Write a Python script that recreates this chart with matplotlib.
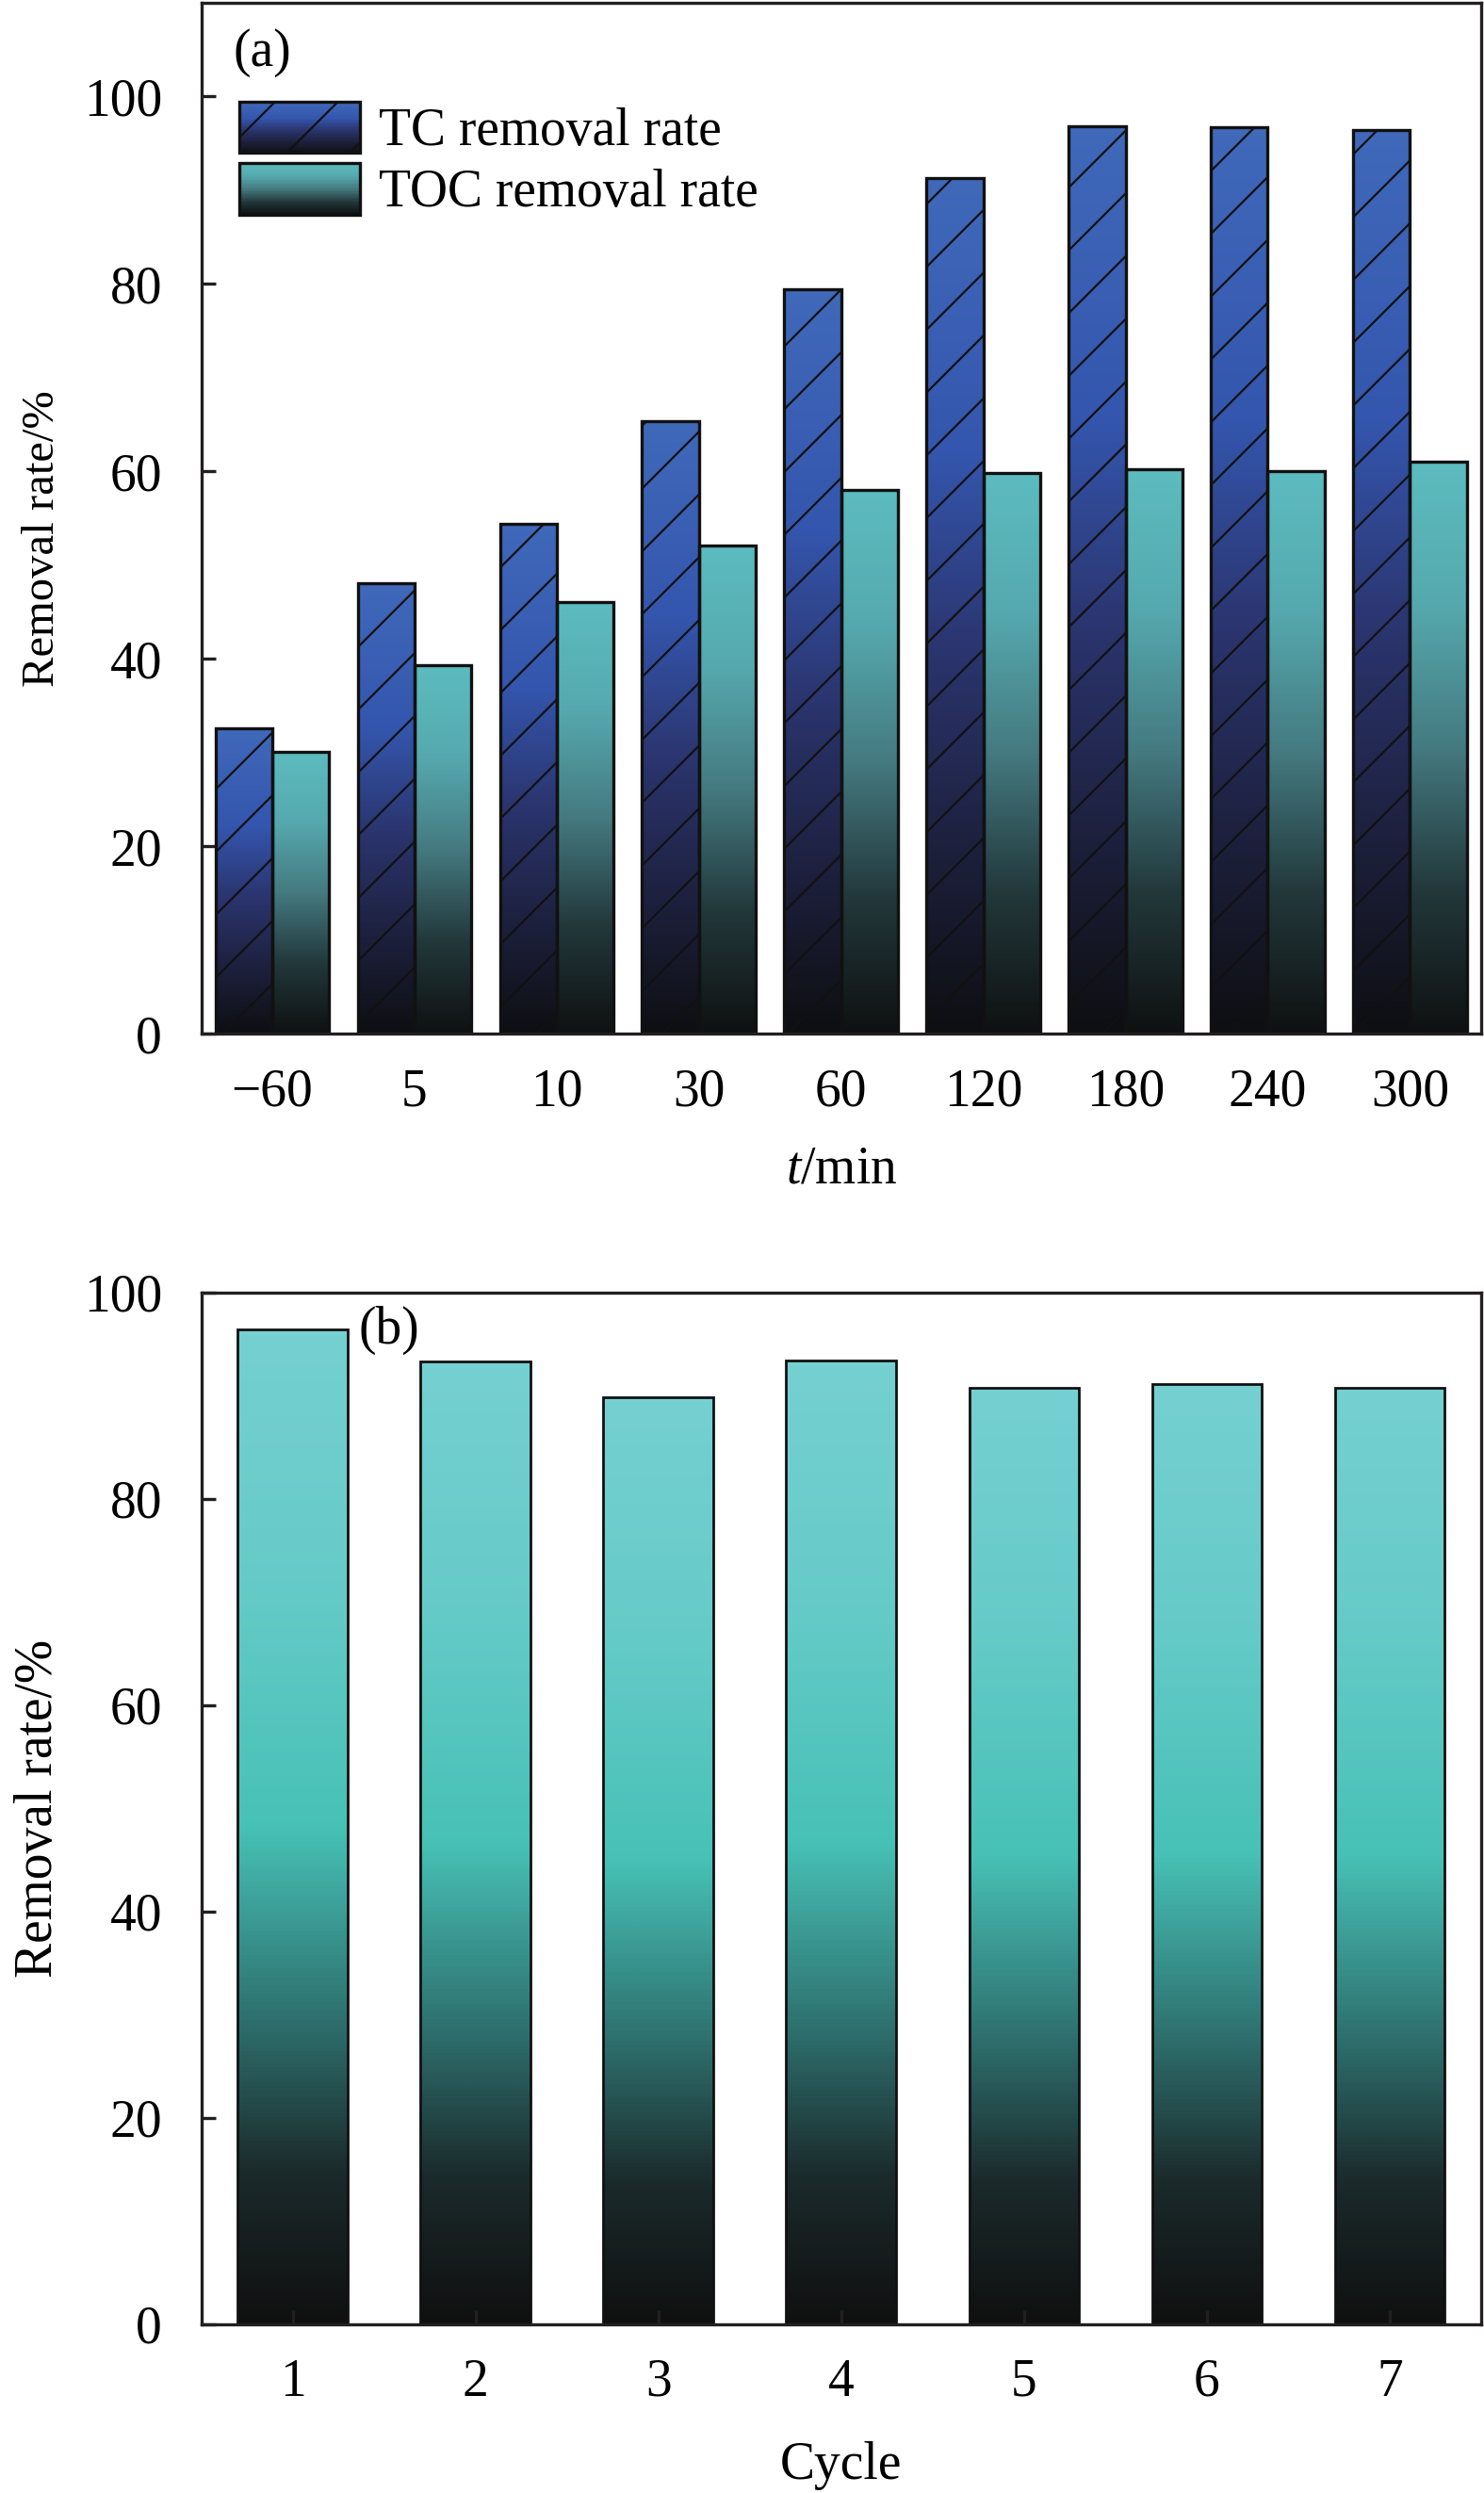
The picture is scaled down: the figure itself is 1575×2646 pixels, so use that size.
import numpy as np
import matplotlib
matplotlib.use("Agg")
import matplotlib.pyplot as plt
from matplotlib.colors import LinearSegmentedColormap
from matplotlib.patches import Rectangle
from matplotlib.legend_handler import HandlerBase

# ============================================================
# DATA
# ============================================================

time_labels = ["\u221260", "5", "10", "30", "60", "120", "180", "240", "300"]

tc_removal = [32.6, 48.1, 54.4, 65.4, 79.4, 91.3, 96.8, 96.7, 96.4]
toc_removal = [30.1, 39.3, 46.0, 52.1, 58.0, 59.8, 60.2, 60.0, 61.0]

cycle_labels = ["1", "2", "3", "4", "5", "6", "7"]
cycle_removal = [96.4, 93.3, 89.9, 93.4, 90.8, 91.1, 90.8]

# ============================================================
# STYLE
# ============================================================

plt.rcParams["font.family"] = ["Liberation Serif", "DejaVu Serif"]
plt.rcParams["font.size"] = 20
plt.rcParams["mathtext.fontset"] = "custom"
plt.rcParams["mathtext.rm"] = "Liberation Serif"
plt.rcParams["mathtext.it"] = "Liberation Serif:italic"
plt.rcParams["hatch.linewidth"] = 0.8

spine_color = "#231f20"
edge_color = "#111111"

cmap_tc = LinearSegmentedColormap.from_list(
    "tc",
    [(0.0, "#0e0f12"), (0.2, "#1c1f3a"), (0.45, "#2b356f"),
     (0.68, "#3456ae"), (1.0, "#4069ba")]
)
cmap_toc = LinearSegmentedColormap.from_list(
    "toc",
    [(0.0, "#0f1111"), (0.25, "#22383b"), (0.5, "#447a80"),
     (0.75, "#55a9ae"), (1.0, "#5cbcbf")]
)
cmap_cyc = LinearSegmentedColormap.from_list(
    "cyc",
    [(0.0, "#101010"), (0.15, "#1b2a2b"), (0.3, "#2d6e6c"),
     (0.5, "#47c1b6"), (0.75, "#66cbc8"), (1.0, "#75d0d1")]
)

grad = np.linspace(0, 1, 256).reshape(-1, 1)


def gradient_bars(ax, bars, cmap):
    for rect in bars:
        x0 = rect.get_x()
        w = rect.get_width()
        h = rect.get_height()
        im = ax.imshow(
            grad,
            cmap=cmap,
            vmin=0,
            vmax=1,
            origin="lower",
            extent=(x0, x0 + w, 0, h),
            aspect="auto",
            interpolation="bilinear",
            zorder=1
        )
        im.set_clip_path(rect)


class GradientHandler(HandlerBase):

    def __init__(self, cmap, hatch=None):
        super().__init__()
        self.cmap = cmap
        self.hatch = hatch

    def create_artists(self, legend, orig_handle, xdescent, ydescent,
                       width, height, fontsize, trans):
        artists = []
        n = 40
        for i in range(n):
            r = Rectangle(
                (-xdescent, -ydescent + height * i / n),
                width,
                height / n * 1.1,
                facecolor=self.cmap((i + 0.5) / n),
                edgecolor="none",
                transform=trans
            )
            artists.append(r)
        border = Rectangle(
            (-xdescent, -ydescent),
            width,
            height,
            facecolor="none",
            edgecolor=edge_color,
            lw=1.2,
            hatch=self.hatch,
            transform=trans
        )
        artists.append(border)
        return artists


def style_axes(ax):
    for s in ax.spines.values():
        s.set_color(spine_color)
        s.set_linewidth(1.2)
    ax.tick_params(direction="in", length=5.5, width=1.2, color=spine_color)
    ax.tick_params(axis="x", pad=13)
    ax.tick_params(axis="y", pad=15)


fig = plt.figure(figsize=(7.875, 13.23), dpi=200)

# ============================================================
# PANEL (a)
# ============================================================

ax1 = fig.add_axes([0.1356, 0.5854, 0.8624, 0.4135])

x = np.arange(len(time_labels))
w = 0.4

bars_tc = ax1.bar(
    x - w / 2, tc_removal, w,
    facecolor="none", edgecolor=edge_color, lw=1.2, hatch="/", zorder=2
)
bars_toc = ax1.bar(
    x + w / 2, toc_removal, w,
    facecolor="none", edgecolor=edge_color, lw=1.2, zorder=2
)
gradient_bars(ax1, bars_tc, cmap_tc)
gradient_bars(ax1, bars_toc, cmap_toc)

ax1.set_xlim(-0.5, len(time_labels) - 0.5)
ax1.set_ylim(0, 110)
ax1.set_yticks([0, 20, 40, 60, 80, 100])
ax1.set_xticks(x)
ax1.set_xticklabels(time_labels)
ax1.set_xlabel("$\\it{t}$/min", labelpad=11)
ax1.set_ylabel("Removal rate/%", fontsize=17.5)
ax1.yaxis.set_label_coords(-0.108, 0.48)
style_axes(ax1)

ax1.text(0.0475, 0.9516, "(a)", transform=ax1.transAxes,
         ha="center", va="center")

h_tc = Rectangle((0, 0), 1, 1)
h_toc = Rectangle((0, 0), 1, 1)
ax1.legend(
    [h_tc, h_toc],
    ["TC removal rate", "TOC removal rate"],
    handler_map={
        h_tc: GradientHandler(cmap_tc, "/"),
        h_toc: GradientHandler(cmap_toc)
    },
    loc="upper left",
    bbox_to_anchor=(0.030, 0.904),
    borderaxespad=0,
    borderpad=0,
    frameon=False,
    handlelength=2.3,
    handleheight=1.13,
    labelspacing=0.13,
    handletextpad=0.36
)

# ============================================================
# PANEL (b)
# ============================================================

ax2 = fig.add_axes([0.1356, 0.0677, 0.8624, 0.4138])

xc = np.arange(1, len(cycle_labels) + 1)

bars_cyc = ax2.bar(
    xc, cycle_removal, 0.6,
    facecolor="none", edgecolor=edge_color, lw=1.0, zorder=2
)
gradient_bars(ax2, bars_cyc, cmap_cyc)

ax2.set_xlim(0.5, len(cycle_labels) + 0.5)
ax2.set_ylim(0, 100)
ax2.set_yticks([0, 20, 40, 60, 80, 100])
ax2.set_xticks(xc)
ax2.set_xticklabels(cycle_labels)
ax2.set_xlabel("Cycle", labelpad=13)
ax2.set_ylabel("Removal rate/%")
ax2.yaxis.set_label_coords(-0.108, 0.5)
style_axes(ax2)

ax2.text(0.147, 0.9635, "(b)", transform=ax2.transAxes,
         ha="center", va="center")

fig.savefig("out.png", dpi=200)
